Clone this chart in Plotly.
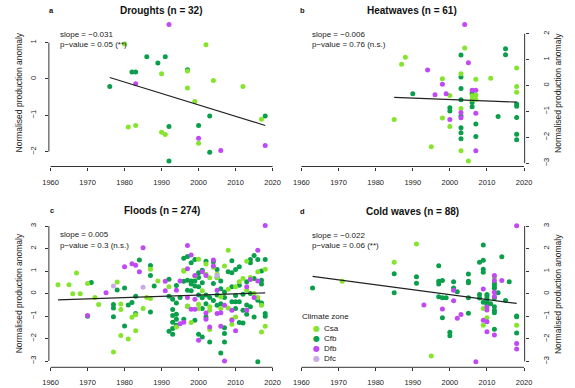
import plotly.graph_objects as go

W, H = 575, 388
FONT = "Liberation Sans, Arial, sans-serif"
AXC = "#333333"

zone_names = ["Csa", "Cfb", "Dfb", "Dfc"]
zone_colors = ["#84E52C", "#0A9F4A", "#C048F5", "#C9A9E8"]

# ---------------- Panel a: Droughts ----------------
a_csa_x = [1980, 2002, 1990, 1997, 2004, 1997, 2012, 1999, 1981, 1983, 2017, 1990, 1991, 2000]
a_csa_y = [0.96, 0.94, 0.14, 0.22, -0.04, -0.25, -0.21, -0.62, -1.32, -1.28, -1.11, -1.47, -1.53, -1.77]
a_cfb_x = [1986, 1991, 1989, 1982, 1983, 1997, 1976, 1992, 2000, 2003, 2018, 2003, 1992]
a_cfb_y = [0.61, 0.61, 0.44, 0.19, 0.19, 0.25, -0.21, -1.31, -1.28, -1.02, -1.02, -2.02, -2.26]
a_dfb_x = [1992, 1983, 2000, 2006, 2018]
a_dfb_y = [1.50, -0.13, -1.63, -1.97, -1.83]
a_dfc_x, a_dfc_y = [], []
a_trend_x = [1976, 2018]
a_trend_y = [0.04, -1.28]

# ---------------- Panel b: Heatwaves ----------------
b_csa_x = [2004, 1988, 1987, 2018, 2003, 2011, 1998, 2007, 2018, 2018, 2000, 2006, 2007, 2007, 2006,
           2003, 1998, 1985, 2000, 1995, 2003, 2005]
b_csa_y = [1.45, 1.09, 0.82, 0.68, 0.45, 0.28, 0.26, 0.24, -0.04, -0.26, -0.39, -0.40, -0.37, -0.53, -0.53,
           -0.89, -1.26, -1.31, -1.58, -2.37, -2.52, -2.92]
b_cfb_x = [2015, 2015, 2003, 2003, 2003, 1990, 2006, 2003, 2006, 2006, 2018, 2018, 2000, 2000, 2003,
           2013, 2018, 2007, 2003, 2003, 2018, 2007, 2003, 2018]
b_cfb_y = [1.42, 1.19, 1.18, 0.33, -0.12, -0.32, -0.31, -0.55, -0.66, -0.82, -0.71, -0.80, -0.86, -0.99, -1.18,
           -1.20, -1.24, -1.49, -1.63, -1.83, -1.88, -1.97, -2.06, -2.10]
b_dfb_x = [2004, 2005, 1994, 1998, 2006, 2007, 1996, 1999, 2003, 2007, 2003, 2000, 2007]
b_dfb_y = [2.36, 0.88, 0.60, 0.05, -0.18, -0.18, -0.36, -0.32, -1.04, -1.07, -1.25, -1.31, -2.52]
b_dfc_x, b_dfc_y = [], []
b_trend_x = [1985, 2018]
b_trend_y = [-0.46, -0.64]

# ---------------- Panel c: Floods ----------------
c_csa_x = [1962, 1965, 1967, 1966, 1968, 1970, 1972, 1973, 1977, 1978, 1979, 1979, 1979, 1981, 1982,
           1983, 1983, 1985, 1986, 1987, 1987, 1989, 1992, 1994, 1996, 1996, 1997, 1998, 1999, 2000,
           2000, 2000, 2001, 2002, 2002, 2003, 2003, 2003, 2003, 2004, 2005, 2005, 2006, 2006, 2007,
           2008, 2008, 2008, 2009, 2009, 2010, 2010, 2011, 2012, 2013, 2013, 2014, 2015, 2016, 2016,
           2017, 2017, 2018, 2018]
c_csa_y = [0.39, 0.39, 0.91, -0.01, -0.01, 0.45, -0.18, -0.49, -2.60, 0.51, -0.46, -0.71, -1.87, -2.02, -1.05,
           -0.94, -1.66, -0.67, -0.18, 1.08, -0.22, 0.56, 0.30, -1.49, 1.04, 0.99, -0.55, -1.29, 0.77, 1.53,
           -0.48, -0.67, 0.12, 1.31, 0.86, 0.70, -0.59, -0.74, -1.60, 1.17, 0.86, 0.71, -0.15, -0.67, 1.22,
           1.93, 0.19, -0.64, -1.16, -1.37, 0.30, -1.04, 0.52, 0.67, 1.44, 0.15, 0.71, 0.00, 0.97, -0.18,
           -0.52, -1.71, 1.08, -1.46]
c_cfb_x = [1971, 1970, 1977, 1977, 1977, 1978, 1980, 1980, 1981, 1982, 1983, 1983, 1984, 1987, 1987,
           1987, 1988, 1992, 1992, 1992, 1993, 1993, 1993, 1993, 1993, 1993, 1994, 1994, 1994, 1994,
           1994, 1995, 1996, 1996, 1996, 1997, 1997, 1997, 1997, 1998, 1998, 1998, 1998, 1999, 1999,
           1999, 1999, 2000, 2000, 2000, 2000, 2000, 2001, 2001, 2001, 2001, 2001, 2002, 2002, 2002,
           2002, 2003, 2003, 2004, 2004, 2004, 2005, 2005, 2005, 2005, 2006, 2006, 2006, 2006, 2007,
           2007, 2007, 2007, 2007, 2008, 2009, 2009, 2009, 2009, 2010, 2010, 2010, 2010, 2011, 2011,
           2011, 2011, 2012, 2012, 2012, 2013, 2013, 2013, 2014, 2014, 2014, 2014, 2015, 2015, 2015,
           2016, 2016, 2016, 2017, 2017, 2017, 2017, 2018, 2018, 2018]
c_cfb_y = [0.49, -1.01, -0.49, -0.64, -1.03, 0.16, 0.25, -1.44, -0.51, -0.40, -0.12, -0.89, 1.49, 1.25, 0.80,
           -0.82, 0.33, 0.64, -0.12, -1.68, -0.25, -0.71, -0.98, -1.28, -1.56, -1.81, 0.36, -0.42, -0.92, -1.14,
           -1.41, -0.18, 1.57, 0.55, -1.14, 1.65, 0.59, 0.15, -0.56, 1.37, 0.56, 0.42, 0.12, 1.51, 0.56,
           0.34, -1.19, 0.92, 0.71, 0.30, -0.07, -1.81, 1.04, 0.48, -0.19, -0.67, -1.93, 1.44, -0.07, -0.45,
           -1.04, -0.18, -2.15, 1.41, 0.45, -0.31, 1.07, 0.71, -0.06, -0.52, 0.56, 0.21, -0.45, -2.64, 0.07,
           -0.18, -1.52, -1.78, -2.15, 0.97, 1.46, 0.92, 0.30, -0.37, 1.07, -0.09, -0.37, -0.67, 1.19, 0.37,
           -0.37, -1.29, -0.03, -0.74, -1.31, 0.52, -0.92, -0.51, 1.37, 1.51, 0.00, -0.59, 1.69, 0.67, -1.04,
           1.51, -0.30, -3.03, 1.00, 0.59, 0.42, -0.42, 1.51, -0.89, -1.01]
c_dfb_x = [1970, 1975, 1980, 1982, 1983, 1984, 1985, 1991, 1991, 1994, 1995, 1995, 1996, 1997, 1997,
           1997, 1998, 1998, 1999, 1999, 1999, 2000, 2001, 2002, 2002, 2002, 2003, 2004, 2004, 2005,
           2005, 2006, 2006, 2007, 2007, 2009, 2009, 2010, 2013, 2013, 2014, 2015, 2016, 2016, 2018]
c_dfb_y = [-0.98, 0.04, 1.19, 1.32, 1.26, 0.97, 2.04, 0.55, 0.12, 0.15, 0.56, -1.34, -1.28, 2.14, 1.10,
           -0.18, 1.71, -0.70, 0.80, -0.25, -0.70, -2.08, 0.97, 0.80, -0.86, -1.14, -1.49, 1.49, 1.23, 0.15,
           -0.89, -0.85, -1.46, -0.52, -3.00, -0.74, -1.19, -1.66, 0.30, -0.74, 0.62, -0.18, 1.92, 0.56, 3.02]
c_dfc_x = [1977, 1985, 2005]
c_dfc_y = [0.34, 0.28, 0.80]
c_trend_x = [1962, 2018]
c_trend_y = [-0.28, 0.03]

# ---------------- Panel d: Cold waves ----------------
d_csa_x = [1971, 1985, 1991, 1995, 2009, 2009, 2010, 2012, 2018]
d_csa_y = [0.55, 1.39, 2.20, -2.76, -0.65, -1.40, -1.06, 0.72, -1.40]
d_cfb_x = [1963, 1985, 1985, 1991, 1991, 1997, 1997, 1997, 1998, 1997, 1998, 1998, 1999, 2000, 2000,
           2001, 2001, 2002, 2005, 2005, 2005, 2005, 2005, 2008, 2009, 2009, 2009, 2009, 2008, 2008,
           2009, 2010, 2010, 2010, 2010, 2010, 2011, 2012, 2012, 2012, 2012, 2012, 2012, 2012, 2012,
           2013, 2014, 2015, 2016, 2018, 2018, 2018]
d_cfb_y = [0.25, 0.89, 0.04, 0.75, 0.46, 1.24, 0.55, 0.43, 0.59, -0.13, -0.18, -1.06, -0.18, -1.71, -1.86,
           0.53, 0.25, 0.09, 0.87, 0.55, 0.49, -0.18, -0.87, 1.39, 2.16, 1.48, 1.08, 0.95, -0.03, -0.19,
           -0.38, -0.03, -0.10, -0.21, -0.35, -0.50, -0.44, 0.46, 0.34, 0.24, -0.19, -0.58, -0.74, -0.84, -1.57,
           0.04, 1.64, -0.30, 0.53, -0.99, -1.02, -1.74]
d_dfb_x = [1993, 1998, 2001, 2001, 2003, 2002, 2007, 2009, 2009, 2010, 2010, 2010, 2010, 2012, 2012,
           2012, 2012, 2012, 2014, 2018, 2018, 2018]
d_dfb_y = [-0.50, -0.68, 0.15, -0.31, -0.92, -1.09, -3.01, 0.21, -1.18, -0.59, -0.72, -1.24, -1.68, 0.81, 0.59,
           0.07, -0.12, -1.83, 0.59, 3.01, -2.20, -2.45]
d_dfc_x, d_dfc_y = [], []
d_trend_x = [1963, 2018]
d_trend_y = [0.77, -0.43]

x_ticks = [1960, 1970, 1980, 1990, 2000, 2010, 2020]
titles = ["Droughts (n = 32)", "Heatwaves (n = 61)", "Floods (n = 274)", "Cold waves (n = 88)"]
letters = ["a", "b", "c", "d"]
slopes = ["slope = \u22120.031", "slope = \u22120.006", "slope = 0.005", "slope = \u22120.022"]
pvals = ["p\u2212value = 0.05 (**)", "p\u2212value = 0.76 (n.s.)", "p\u2212value = 0.3 (n.s.)", "p\u2212value = 0.06 (**)"]
y_ticks = [[-2, -1, 0, 1], [-3, -2, -1, 0, 1, 2], [-3, -2, -1, 0, 1, 2, 3], [-3, -2, -1, 0, 1, 2, 3]]
y_ranges = [[-2.41, 1.65], [-3.13, 2.57], [-3.28, 3.27], [-3.26, 3.25]]
ylabel = "Normalised production anomaly"

panel_data = [
    [(a_csa_x, a_csa_y), (a_cfb_x, a_cfb_y), (a_dfb_x, a_dfb_y), (a_dfc_x, a_dfc_y)],
    [(b_csa_x, b_csa_y), (b_cfb_x, b_cfb_y), (b_dfb_x, b_dfb_y), (b_dfc_x, b_dfc_y)],
    [(c_csa_x, c_csa_y), (c_cfb_x, c_cfb_y), (c_dfb_x, c_dfb_y), (c_dfc_x, c_dfc_y)],
    [(d_csa_x, d_csa_y), (d_cfb_x, d_cfb_y), (d_dfb_x, d_dfb_y), (d_dfc_x, d_dfc_y)],
]
trends = [(a_trend_x, a_trend_y), (b_trend_x, b_trend_y), (c_trend_x, c_trend_y), (d_trend_x, d_trend_y)]

# layout geometry in window pixels (left, right, top, bottom)
boxes = [(43, 274.5, 19, 166.5), (300.4, 531.5, 19, 166.5),
         (43, 274.5, 220, 367.3), (300.4, 531.5, 220.4, 367.3)]
x_ranges = [[1959.55, 2020.47], [1959.5, 2020.15], [1959.55, 2020.47], [1959.5, 2020.15]]
sides = ["left", "right", "left", "right"]


def px(v):
    return v / W


def py(v):
    return 1 - v / H


fig = go.Figure()
shapes = []
annotations = []
layout_axes = {}

for i in range(4):
    sfx = "" if i == 0 else str(i + 1)
    xa, ya = "x" + sfx, "y" + sfx
    l, r, t, b = boxes[i]
    for z in [1, 0, 2, 3]:
        xs, ys = panel_data[i][z]
        if not xs:
            continue
        fig.add_trace(go.Scatter(x=xs, y=ys, mode="markers", xaxis=xa, yaxis=ya,
                                 marker=dict(size=5, color=zone_colors[z], line=dict(width=0)),
                                 showlegend=False, hoverinfo="x+y"))
    tx, ty = trends[i]
    fig.add_trace(go.Scatter(x=tx, y=ty, mode="lines", xaxis=xa, yaxis=ya,
                             line=dict(color="#222222", width=1.2), showlegend=False))

    layout_axes["xaxis" + sfx] = dict(
        domain=[px(l), px(r)], anchor=ya, range=x_ranges[i], tickvals=x_ticks,
        ticks="outside", ticklen=3, tickwidth=1, tickcolor=AXC, showline=False,
        showgrid=False, zeroline=False, tickfont=dict(size=7.5, color="#222", family=FONT),
        ticklabelstandoff=5)
    layout_axes["yaxis" + sfx] = dict(
        domain=[py(b), py(t)], anchor=xa, range=y_ranges[i], tickvals=y_ticks[i],
        ticks="outside", ticklen=3, tickwidth=1, tickcolor=AXC, showline=False,
        showgrid=False, zeroline=False, side=sides[i], tickangle=-90,
        tickfont=dict(size=7.5, color="#222", family=FONT),
        ticklabelstandoff=6 if sides[i] == "left" else 11)

    # R-style axis lines covering only the tick range
    shapes.append(dict(type="line", xref=xa, yref=ya + " domain", x0=x_ticks[0], x1=x_ticks[-1],
                       y0=0, y1=0, line=dict(color=AXC, width=1)))
    xd = 0 if sides[i] == "left" else 1
    shapes.append(dict(type="line", xref=xa + " domain", yref=ya, x0=xd, x1=xd,
                       y0=y_ticks[i][0], y1=y_ticks[i][-1], line=dict(color=AXC, width=1)))

    # titles and letters
    annotations.append(dict(text="<b>" + titles[i] + "</b>", x=px((l + r) / 2), y=py(t - 9),
                            xref="paper", yref="paper", showarrow=False, xanchor="center",
                            yanchor="middle", font=dict(size=10, color="#111", family=FONT)))
    annotations.append(dict(text="<b>" + letters[i] + "</b>", x=px(l + 3), y=py(t - 9),
                            xref="paper", yref="paper", showarrow=False, xanchor="center",
                            yanchor="middle", font=dict(size=7.5, color="#111", family=FONT)))
    # statistics text
    annotations.append(dict(text=slopes[i], x=px(l + 9 if i % 2 == 0 else l + 10.5), y=py(t + 15),
                            xref="paper", yref="paper", showarrow=False, xanchor="left",
                            yanchor="middle", font=dict(size=8, color="#222", family=FONT)))
    annotations.append(dict(text=pvals[i], x=px(l + 9 if i % 2 == 0 else l + 10.5), y=py(t + 25.5),
                            xref="paper", yref="paper", showarrow=False, xanchor="left",
                            yanchor="middle", font=dict(size=8, color="#222", family=FONT)))
    # axis titles
    annotations.append(dict(text=ylabel, x=px(12 if sides[i] == "left" else 566),
                            y=py((t + b) / 2), xref="paper", yref="paper", showarrow=False,
                            textangle=-90, xanchor="center", yanchor="middle",
                            font=dict(size=8.5, color="#222", family=FONT)))

# legend (drawn in panel d)
annotations.append(dict(text="Climate zone", x=px(301), y=py(316), xref="paper", yref="paper",
                        showarrow=False, xanchor="left", yanchor="middle",
                        font=dict(size=8, color="#222", family=FONT)))
for k, name in enumerate(zone_names):
    yy = 328.5 + 10 * k
    annotations.append(dict(text="\u25CF", x=px(318.3), y=py(yy), xref="paper", yref="paper",
                            showarrow=False, xanchor="center", yanchor="middle",
                            font=dict(size=8, color=zone_colors[k], family="DejaVu Sans")))
    annotations.append(dict(text=name, x=px(323.5), y=py(yy), xref="paper", yref="paper",
                            showarrow=False, xanchor="left", yanchor="middle",
                            font=dict(size=8, color="#222", family=FONT)))

fig.update_layout(width=W, height=H, margin=dict(l=0, r=0, t=0, b=0),
                  paper_bgcolor="white", plot_bgcolor="white", showlegend=False,
                  font=dict(family=FONT), shapes=shapes, annotations=annotations, **layout_axes)

# remove the default page margin so the figure fills the window exactly
fig.write_html("out.html", config={"displayModeBar": False},
               post_script="document.body.style.margin='0';document.body.style.overflow='hidden';")
